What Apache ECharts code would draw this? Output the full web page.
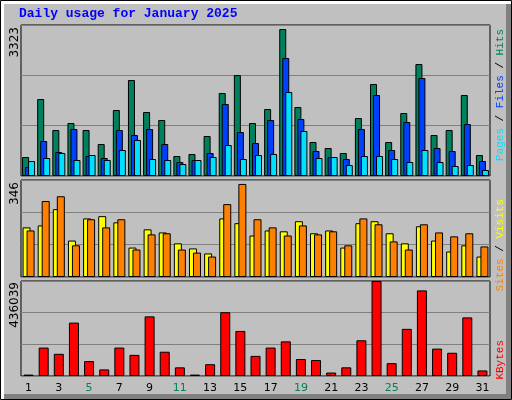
<!DOCTYPE html>
<html><head><meta charset="utf-8">
<script src="https://cdn.jsdelivr.net/npm/echarts@6/dist/echarts.min.js"></script>
<style>html,body{margin:0;padding:0;background:#fff}#c{width:512px;height:400px}</style>
</head><body><div id="c"></div>
<script>
const days = ['1','2','3','4','5','6','7','8','9','10','11','12','13','14','15','16','17','18','19','20','21','22','23','24','25','26','27','28','29','30','31'];
const weekend = ['4','5','11','12','18','19','25','26'];
const hits = [418,1694,1012,1166,1012,704,1452,2112,1408,1232,440,484,880,1826,2222,1166,1474,3234,1518,748,616,506,1276,2024,748,1386,2464,902,1012,1782,462];
const files = [198,770,528,1034,440,396,1012,902,1034,704,308,352,506,1584,968,726,1232,2596,1254,550,418,374,1034,1782,572,1188,2156,616,550,1144,330];
const pages = [330,396,506,352,462,352,572,792,374,352,264,352,418,682,374,462,484,1848,990,396,418,242,440,440,374,308,572,308,220,242,132];
const sites = [177,184,242,130,209,217,195,105,170,159,120,102,84,209,192,148,166,163,199,156,166,105,192,199,156,120,181,130,91,113,73];
const visits = [166,271,288,113,206,177,206,98,152,156,98,87,73,260,332,206,177,148,184,152,163,113,209,188,127,98,188,159,145,156,109];
const kbytes = [6400,130500,101800,245000,68400,30200,130500,97000,273700,111400,39800,6400,54100,292700,206800,92300,130500,159100,78000,73200,15900,39800,163900,436039,58900,216400,393000,125700,106600,268900,25500];
const maxTop = 3323, maxMid = 346, maxBot = 436039;
const title = 'Daily usage for January 2025';

const chart = echarts.init(document.getElementById('c'));
const mono = 'Liberation Mono, DejaVu Sans Mono, monospace';
const grids = [
  {left:21,right:22,top:25,height:151},
  {left:21,right:22,top:180,height:97},
  {left:21,right:22,top:281,height:95}
].map(g=>Object.assign(g,{show:true,borderColor:'#000',borderWidth:1,backgroundColor:'transparent'}));
function xa(i,show){return {type:'category',gridIndex:i,data:days,
  axisLine:{show:false},axisTick:{show:false},
  axisLabel:{show:show,margin:7,fontFamily:'DejaVu Sans',fontSize:11,
    color:(v)=>weekend.includes(v)?'#00805c':'#000'}};}
function ya(i,max){return {type:'value',gridIndex:i,min:0,max:max,interval:max/3,
  axisLabel:{show:false},axisLine:{show:false},axisTick:{show:false},
  splitLine:{show:true,lineStyle:{color:'#808080',width:1}}};}
const bs = c=>({color:c,borderColor:'#000',borderWidth:1});
chart.setOption({
  animation:false,
  backgroundColor:'transparent',
  grid:grids,
  xAxis:[xa(0,false),xa(1,false),xa(2,true)],
  yAxis:[ya(0,maxTop),ya(1,maxMid),ya(2,maxBot)],
  series:[
    {type:'bar',name:'Hits',data:hits,xAxisIndex:0,yAxisIndex:0,barWidth:7,barGap:'-57%',itemStyle:bs('#00805c')},
    {type:'bar',name:'Files',data:files,xAxisIndex:0,yAxisIndex:0,barWidth:7,barGap:'-57%',itemStyle:bs('#0040ff')},
    {type:'bar',name:'Pages',data:pages,xAxisIndex:0,yAxisIndex:0,barWidth:7,barGap:'-57%',itemStyle:bs('#00e0ff')},
    {type:'bar',name:'Sites',data:sites,xAxisIndex:1,yAxisIndex:1,barWidth:8,barGap:'-50%',itemStyle:bs('#ffff00')},
    {type:'bar',name:'Visits',data:visits,xAxisIndex:1,yAxisIndex:1,barWidth:8,barGap:'-50%',itemStyle:bs('#ff8000')},
    {type:'bar',name:'KBytes',data:kbytes,xAxisIndex:2,yAxisIndex:2,barWidth:10,itemStyle:bs('#ff0000')}
  ],
  graphic:[
    {type:'rect',z:-10,silent:true,shape:{x:0.5,y:0.5,width:511,height:399},style:{fill:'#ffffff',stroke:'#000',lineWidth:1}},
    {type:'rect',z:-9,silent:true,shape:{x:4,y:4,width:507,height:395},style:{fill:'#808080'}},
    {type:'rect',z:-8,silent:true,shape:{x:4,y:4,width:502,height:390},style:{fill:'#c0c0c0'}},
    {type:'text',left:19,top:7,style:{text:title,font:'bold 13px '+mono,fill:'#0000ff'}},
    {type:'text',x:15,y:27,rotation:Math.PI/2,style:{text:String(maxTop),font:'12px DejaVu Sans',fill:'#000',align:'right',verticalAlign:'middle'}},
    {type:'text',x:15,y:182,rotation:Math.PI/2,style:{text:String(maxMid),font:'12px DejaVu Sans',fill:'#000',align:'right',verticalAlign:'middle'}},
    {type:'text',x:15,y:282,rotation:Math.PI/2,style:{text:String(maxBot),font:'12px DejaVu Sans',fill:'#000',align:'right',verticalAlign:'middle'}},
    {type:'text',x:500,y:29,rotation:Math.PI/2,style:{text:'{p|Pages} {s|/} {f|Files} {s|/} {h|Hits}',align:'right',verticalAlign:'middle',font:'11px '+mono,
      rich:{p:{fill:'#00e0ff',font:'11px '+mono},f:{fill:'#0040ff',font:'11px '+mono},h:{fill:'#00805c',font:'11px '+mono},s:{fill:'#000',font:'11px '+mono}}}},
    {type:'text',x:500,y:199,rotation:Math.PI/2,style:{text:'{a|Sites} {s|/} {b|Visits}',align:'right',verticalAlign:'middle',font:'11px '+mono,
      rich:{a:{fill:'#ff8000',font:'11px '+mono},b:{fill:'#ffff00',font:'11px '+mono},s:{fill:'#000',font:'11px '+mono}}}},
    {type:'text',x:500,y:340,rotation:Math.PI/2,style:{text:'KBytes',align:'right',verticalAlign:'middle',font:'11px '+mono,fill:'#ff0000'}}
  ]
});
</script></body></html>
